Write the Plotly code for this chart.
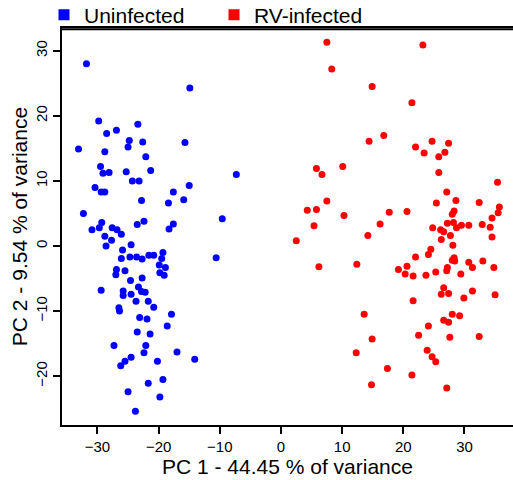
import plotly.graph_objects as go

# Uninfected (blue) PCA scores
uninf_pc1 = [-31.8, -14.9, -29.8, -23.4, -26.9, -28.5, -24.8, -22.6, -15.7, -25.0,
             -33.1, -28.8, -22.1, -29.5, -21.3, -7.3, -29.1, -28.1, -25.3, -24.3,
             -23.2, -15.0, -30.4, -29.4, -28.8, -17.6, -22.8, -15.9, -18.4, -32.3,
             -9.6, -22.4, -23.5, -29.3, -17.6, -29.7, -30.9, -27.6, -26.8, -18.3,
             -26.1, -28.8, -27.7, -24.5, -28.6, -25.9, -19.3, -21.6, -20.8, -24.7,
             -23.6, -22.7, -26.1, -19.5, -10.6, -26.9, -25.5, -27.0, -19.9, -18.9,
             -19.8, -19.1, -24.6, -22.7, -23.3, -29.4, -25.8, -22.8, -22.2, -24.5,
             -25.8, -23.7, -21.7, -20.8, -26.5, -26.4, -17.9, -23.1, -21.9, -18.6,
             -23.5, -21.4, -27.3, -22.1, -17.0, -22.4, -24.5, -25.5, -26.2, -14.1,
             -20.2, -19.3, -21.7, -25.0, -19.8, -23.8]
uninf_pc2 = [28.0, 24.3, 19.2, 18.7, 17.8, 17.3, 16.2, 16.0, 15.9, 15.2,
             14.9, 14.5, 13.7, 12.2, 11.6, 11.0, 11.2, 11.3, 11.4, 10.0,
             10.0, 9.3, 9.0, 8.3, 8.3, 8.3, 7.0, 7.1, 6.6, 5.0,
             4.2, 3.8, 3.3, 3.6, 3.4, 2.8, 2.5, 2.8, 2.5, 2.6,
             1.8, 1.5, 0.9, 0.2, 0.0, -0.6, -1.0, -1.4, -1.4, -1.7,
             -1.7, -2.0, -1.9, -1.9, -1.8, -3.6, -3.8, -4.4, -2.9, -3.3,
             -4.1, -4.5, -5.3, -4.9, -6.3, -6.8, -6.9, -7.0, -7.1, -7.4,
             -7.6, -8.5, -8.5, -9.4, -9.5, -10.0, -10.5, -11.0, -11.2, -12.3,
             -13.2, -13.5, -15.3, -15.3, -16.3, -16.4, -17.1, -17.7, -18.4, -17.4,
             -17.7, -20.5, -21.1, -22.4, -23.2, -25.4]

# RV-infected (red) PCA scores
rv_pc1 = [7.5, 23.2, 8.3, 14.9, 21.4, 16.8, 14.4, 24.7, 27.4, 22.0,
          23.4, 26.8, 25.8, 5.8, 6.7, 10.1, 25.8, 35.4, 27.1, 7.5,
          28.6, 32.4, 25.4, 35.7, 4.3, 5.8, 28.3, 28.0, 35.5, 10.3,
          17.7, 20.6, 34.5, 16.2, 27.2, 28.2, 29.5, 30.7, 32.9, 28.7,
          34.2, 5.4, 24.8, 26.1, 26.6, 2.5, 14.2, 27.7, 34.5, 26.2,
          28.1, 24.5, 24.1, 22.0, 28.0, 28.3, 28.4, 30.7, 33.0, 6.2,
          12.4, 20.6, 19.2, 27.2, 27.1, 31.3, 34.8, 20.3, 21.6, 23.7,
          25.3, 29.4, 26.6, 26.2, 27.4, 31.3, 29.9, 35.0, 21.6, 13.6,
          28.0, 29.2, 26.6, 27.4, 24.1, 22.5, 14.9, 27.6, 32.4, 23.9,
          24.7, 25.3, 12.3, 17.4, 21.4, 14.8, 27.1]
rv_pc2 = [31.3, 30.9, 27.2, 24.5, 22.0, 17.0, 16.1, 16.1, 15.8, 15.2,
          14.3, 14.4, 13.7, 11.9, 11.0, 12.2, 11.3, 9.8, 8.3, 6.9,
          7.0, 6.7, 6.6, 6.0, 5.5, 5.6, 5.4, 4.9, 5.1, 4.7,
          5.2, 5.3, 4.3, 3.4, 3.5, 3.6, 3.2, 3.2, 3.3, 2.8,
          2.9, 3.1, 2.8, 2.5, 2.2, 0.8, 1.6, 1.6, 1.4, 1.0,
          0.1, -0.5, -1.3, -1.7, -2.2, -1.8, -2.3, -2.5, -2.3, -3.2,
          -2.8, -3.1, -3.6, -3.3, -3.8, -3.3, -3.3, -4.3, -4.6, -4.5,
          -4.0, -4.3, -6.4, -7.4, -7.3, -6.9, -8.0, -7.5, -8.4, -10.5,
          -10.5, -10.7, -11.4, -11.7, -12.3, -13.7, -14.3, -14.0, -13.9, -16.0,
          -17.0, -17.8, -16.4, -18.8, -19.8, -21.3, -21.8]

group_names = ["Uninfected", "RV-infected"]
group_colors = ["#0000FF", "#FF0000"]
x_ticks = [-30, -20, -10, 0, 10, 20, 30]
y_ticks = [-20, -10, 0, 10, 20, 30]
x_title = "PC 1 - 44.45 % of variance"
y_title = "PC 2 - 9.54 % of variance"
x_range = [-35.8, 37.93]
y_range = [-27.5, 33.5]

FONT = "Liberation Sans, Arial, sans-serif"

fig = go.Figure()
for xs, ys, name, col in [(uninf_pc1, uninf_pc2, group_names[0], group_colors[0]),
                          (rv_pc1, rv_pc2, group_names[1], group_colors[1])]:
    fig.add_trace(go.Scatter(x=xs, y=ys, mode="markers", name=name, showlegend=False,
                             marker=dict(color=col, size=7, line=dict(width=0)),
                             hoverinfo="x+y+name"))
for name, col in zip(group_names, group_colors):
    fig.add_trace(go.Scatter(x=[None], y=[None], mode="markers", name=name,
                             marker=dict(color=col, size=11, symbol="square", line=dict(width=0))))

axis_common = dict(showgrid=False, zeroline=False, showline=True, linecolor="black",
                   linewidth=1.6, ticks="outside", ticklen=7, tickwidth=1.5, tickcolor="black",
                   tickfont=dict(family=FONT, size=15, color="black"),
                   automargin=False)

fig.update_layout(
    width=513, height=480,
    margin=dict(l=62, r=0, t=28, b=55, autoexpand=False),
    paper_bgcolor="white", plot_bgcolor="white",
    font=dict(family=FONT, color="black"),
    showlegend=True,
    legend=dict(orientation="h", xref="container", yref="container",
                x=44/513, y=1 - 15/480, xanchor="left", yanchor="middle",
                font=dict(family=FONT, size=21, color="black"),
                entrywidth=125, entrywidthmode="pixels",
                bgcolor="rgba(255,255,255,0)", borderwidth=0),
    xaxis=dict(range=x_range, tickvals=x_ticks, mirror=True,
               ticktext=[("\u2212" + str(-v)) if v < 0 else str(v) for v in x_ticks],
               title=dict(text=x_title, font=dict(family=FONT, size=21, color="black"), standoff=6),
               **axis_common),
    yaxis=dict(range=y_range, tickvals=y_ticks, mirror=False,
               ticktext=[("\u2212" + str(-v)) if v < 0 else str(v) for v in y_ticks],
               tickangle=-90,
               title=dict(text=y_title, font=dict(family=FONT, size=21, color="black"), standoff=0),
               **axis_common),
    shapes=[dict(type="line", xref="x domain", yref="y domain",
                 x0=0, x1=1, y0=0.997, y1=0.997,
                 line=dict(color="black", width=2), layer="above")],
)

fig.write_html("out.html", config={"displayModeBar": False},
               post_script="document.body.style.margin='0';document.body.style.padding='0';")
